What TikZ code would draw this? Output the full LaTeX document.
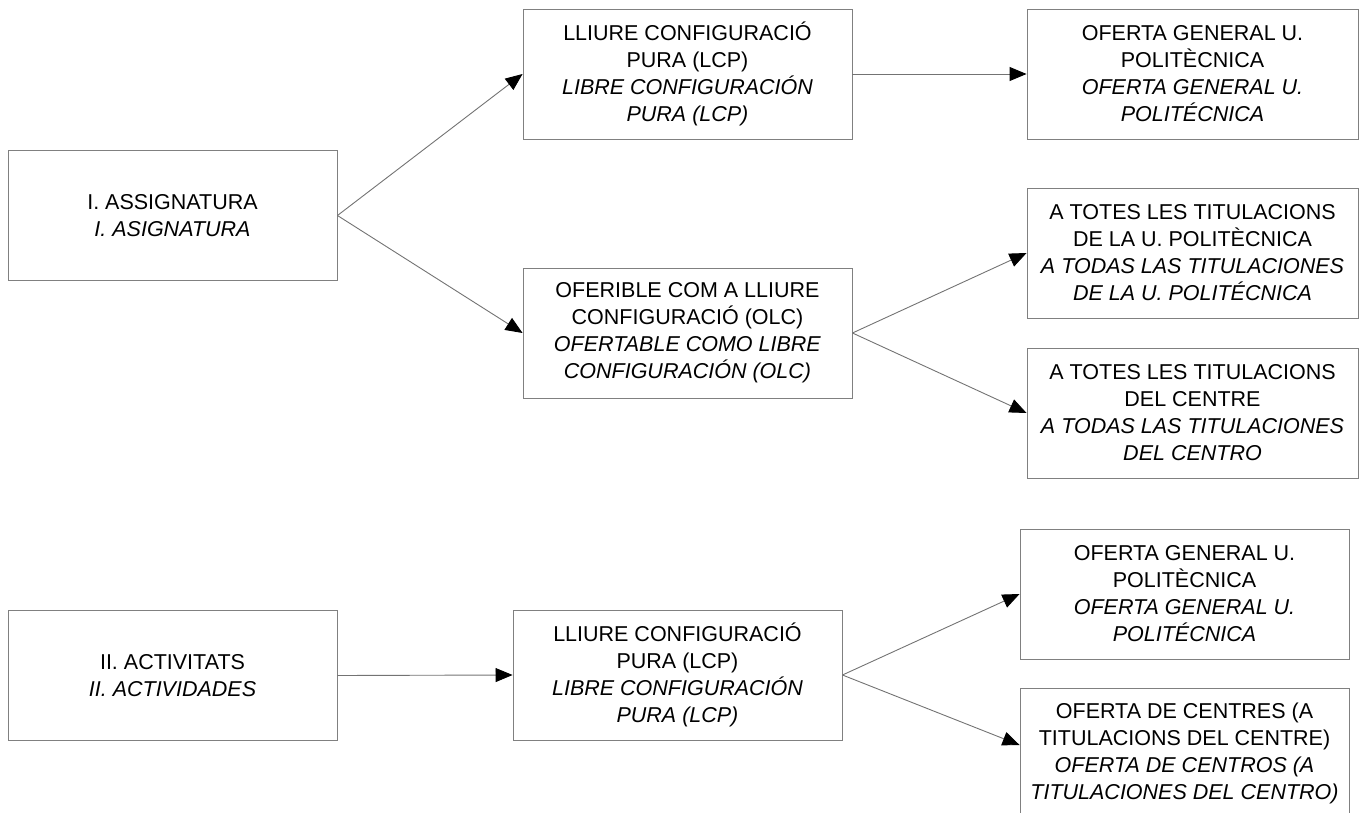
\documentclass[tikz,border=0pt]{standalone}
\usepackage{fontspec}
\setmainfont{Liberation Sans}
\usetikzlibrary{arrows.meta}
\tikzset{
	box/.style={draw=black!50, line width=0.9pt, minimum width=329pt, minimum height=130pt, inner sep=0pt, align=center, font=\fontsize{21.5}{27}\selectfont},
	wide/.style={box, minimum width=331pt},
	arr/.style={draw=black!55, line width=0.9pt, -{Triangle[length=17pt,width=14pt,color=black]}}
}
\begin{document}
\begin{tikzpicture}[x=1pt, y=-1pt]
		%%%%% START %%%%%
		\useasboundingbox (0,0) rectangle (1362,813);
		
		% part I
		\node[box] (asig) at (172.5, 215.5) {I. ASSIGNATURA\\\textit{I. ASIGNATURA}};
		\node[box] (lcpa) at (687.5, 74) {LLIURE CONFIGURACIÓ\\PURA (LCP)\\\textit{LIBRE CONFIGURACIÓN}\\\textit{PURA (LCP)}};
		\node[box] (olc) at (687.5, 333) {OFERIBLE COM A LLIURE\\CONFIGURACIÓ (OLC)\\\textit{OFERTABLE COMO LIBRE}\\\textit{CONFIGURACIÓN (OLC)}};
		\node[wide] (ofga) at (1192.5, 74) {OFERTA GENERAL U.\\POLITÈCNICA\\\textit{OFERTA GENERAL U.}\\\textit{POLITÉCNICA}};
		\node[wide] (totupv) at (1192.5, 253) {A TOTES LES TITULACIONS\\DE LA U. POLITÈCNICA\\\textit{A TODAS LAS TITULACIONES}\\\textit{DE LA U. POLITÉCNICA}};
		\node[wide] (totcen) at (1192.5, 413) {A TOTES LES TITULACIONS\\DEL CENTRE\\\textit{A TODAS LAS TITULACIONES}\\\textit{DEL CENTRO}};
		
		\draw[arr] (asig.east) -- (lcpa.west);
		\draw[arr] (asig.east) -- (olc.west);
		\draw[arr] (lcpa.east) -- (ofga.west);
		\draw[arr] (olc.east) -- (totupv.west);
		\draw[arr] (olc.east) -- (totcen.west);
		
		% part II
		\node[box] (activ) at (172.5, 675.5) {II. ACTIVITATS\\\textit{II. ACTIVIDADES}};
		\node[box] (lcpb) at (677.5, 675) {LLIURE CONFIGURACIÓ\\PURA (LCP)\\\textit{LIBRE CONFIGURACIÓN}\\\textit{PURA (LCP)}};
		\node[box] (ofgb) at (1184.5, 594) {OFERTA GENERAL U.\\POLITÈCNICA\\\textit{OFERTA GENERAL U.}\\\textit{POLITÉCNICA}};
		\node[box] (ofcen) at (1184.5, 753) {OFERTA DE CENTRES (A\\TITULACIONS DEL CENTRE)\\\textit{OFERTA DE CENTROS (A}\\\textit{TITULACIONES DEL CENTRO)}};
		
		\draw[arr] (activ.east) -- (lcpb.west);
		\draw[arr] (lcpb.east) -- (ofgb.west);
		\draw[arr] (lcpb.east) -- ([yshift=8pt]ofcen.west);
		
		%%%%% END %%%%%
	\end{tikzpicture}
\end{document}
